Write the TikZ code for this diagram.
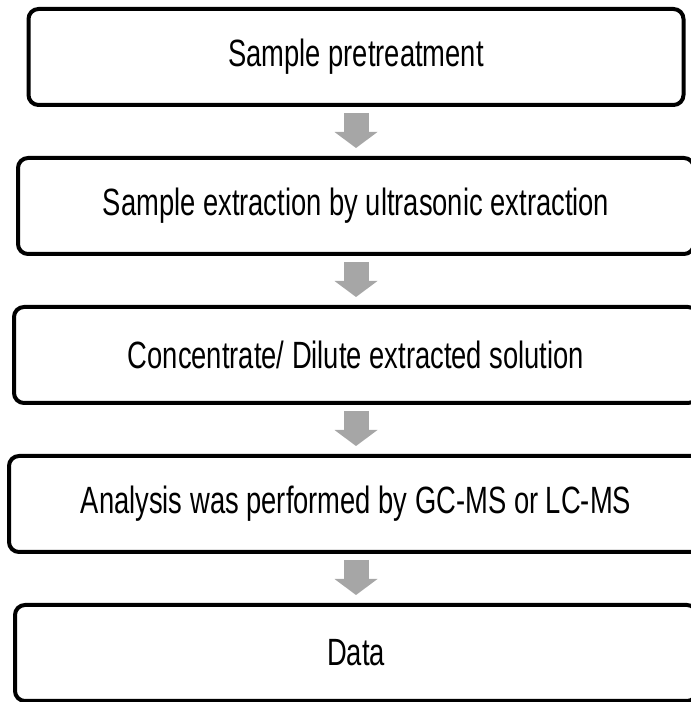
\documentclass[tikz,border=0pt]{standalone}
\usepackage{fontspec}
\setmainfont[FakeStretch=0.72]{Liberation Sans}
\usetikzlibrary{positioning,arrows.meta}
\definecolor{arrowgray}{RGB}{166,166,166}

\begin{document}
\begin{tikzpicture}[x=1pt,y=1pt,node distance=53pt,
  stage/.style={draw,line width=4pt,rounded corners=10pt,minimum height=96pt,inner sep=0pt,outer sep=0pt,font=\fontsize{38}{45}\selectfont},
  flow/.style={draw=arrowgray,line width=25pt,-{Triangle[width=43pt,length=16pt,line width=0pt]},shorten <=8pt,shorten >=10pt}]
  \useasboundingbox (0,0) rectangle (691,702);
  \node[stage,minimum width=655pt] (pretreat) at (356,645) {Sample pretreatment};
  \node[stage,minimum width=676pt,below=of pretreat] (extract) {Sample extraction by ultrasonic extraction};
  \node[stage,minimum width=684pt,below=of extract] (concentrate) {Concentrate/ Dilute extracted solution};
  \node[stage,minimum width=694pt,below=of concentrate] (analysis) {Analysis was performed by GC-MS or LC-MS};
  \node[stage,minimum width=682pt,below=of analysis] (data) {Data};
  % grey block arrows between the stages
  \draw[flow] (pretreat) -- (extract);
  \draw[flow] (extract) -- (concentrate);
  \draw[flow] (concentrate) -- (analysis);
  \draw[flow] (analysis) -- (data);
\end{tikzpicture}
\end{document}
